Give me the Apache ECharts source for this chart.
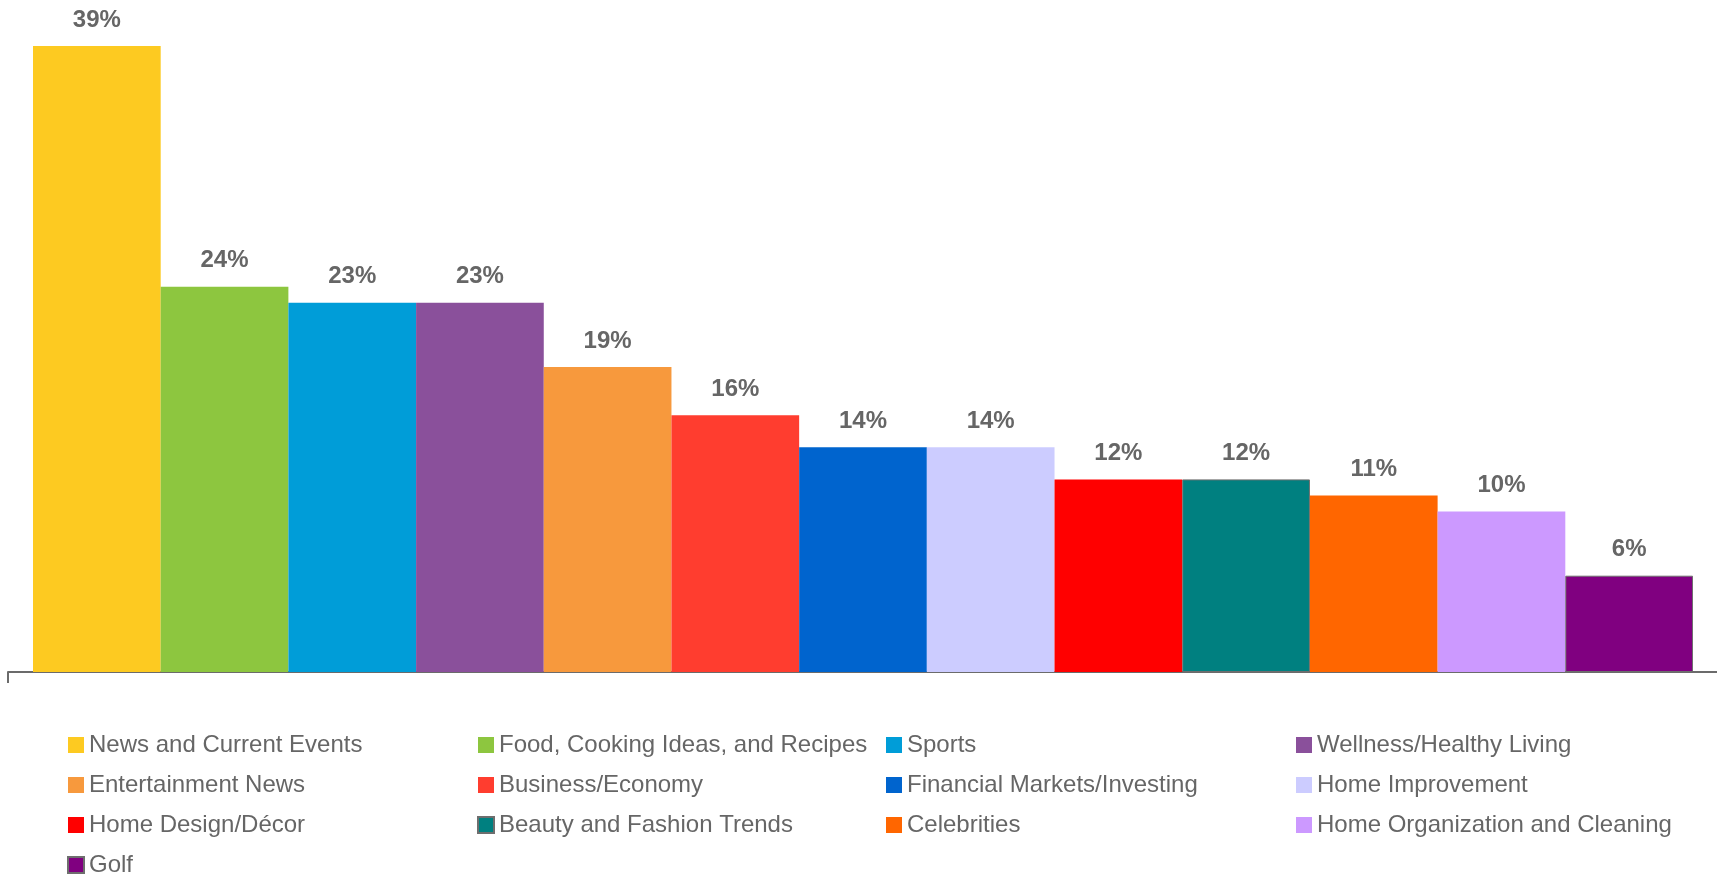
<!DOCTYPE html>
<html>
<head>
<meta charset="utf-8">
<style>
  html, body { margin: 0; padding: 0; background: #ffffff; }
  #chart { width: 1717px; height: 876px; }
</style>
<script src="https://cdn.jsdelivr.net/npm/echarts@6/dist/echarts.min.js"></script>
</head>
<body>
<div id="chart"></div>
<script>
// Share of respondents interested in each topic (%)
const categories = [
  'News and Current Events',
  'Food, Cooking Ideas, and Recipes',
  'Sports',
  'Wellness/Healthy Living',
  'Entertainment News',
  'Business/Economy',
  'Financial Markets/Investing',
  'Home Improvement',
  'Home Design/Décor',
  'Beauty and Fashion Trends',
  'Celebrities',
  'Home Organization and Cleaning',
  'Golf'
];
const values = [39, 24, 23, 23, 19, 16, 14, 14, 12, 12, 11, 10, 6];
const colors = [
  '#FDCA21', '#8DC63F', '#009DD8', '#8A509B', '#F7993D', '#FF3D2F', '#0064CE',
  '#CCCCFF', '#FF0000', '#008080', '#FF6600', '#CC99FF', '#800080'
];
// Topics whose bars carry a thin grey outline
const outlined = ['Beauty and Fashion Trends', 'Golf'];

// Legend columns (left-to-right), each listing its rows top-to-bottom
const legendColumns = [
  ['News and Current Events', 'Entertainment News', 'Home Design/Décor', 'Golf'],
  ['Food, Cooking Ideas, and Recipes', 'Business/Economy', 'Beauty and Fashion Trends'],
  ['Sports', 'Financial Markets/Investing', 'Celebrities'],
  ['Wellness/Healthy Living', 'Home Improvement', 'Home Organization and Cleaning']
];
const legendLefts = [67, 477, 886, 1296];

const textGrey = '#666666';
const fontFamily = '"Liberation Sans", Arial, Helvetica, sans-serif';

// One series per topic, all on one stack so every bar fills its full category band
const series = categories.map((name, i) => ({
  name: name,
  type: 'bar',
  stack: 'all',
  barWidth: '100%',
  data: values.map((v, j) => (j === i ? v : '-')),
  itemStyle: outlined.includes(name)
    ? { color: colors[i], borderColor: '#6e6e6e', borderWidth: 1 }
    : { color: colors[i] },
  label: {
    show: true,
    position: 'top',
    distance: 14,
    formatter: '{c}%',
    color: textGrey,
    fontFamily: fontFamily,
    fontWeight: 'bold',
    fontSize: 24
  },
  emphasis: { disabled: true }
}));

// Baseline running the full width of the page, with a short tick at its left end
series.push({
  type: 'line',
  xAxisIndex: 1,
  yAxisIndex: 1,
  data: [],
  silent: true
});

const legends = legendColumns.map((col, k) => ({
  orient: 'vertical',
  left: legendLefts[k],
  top: 733,
  height: 170,
  padding: 0,
  itemGap: 16,
  itemWidth: 16,
  itemHeight: 16,
  icon: 'rect',
  selectedMode: false,
  data: col,
  textStyle: {
    color: textGrey,
    fontFamily: fontFamily,
    fontSize: 24,
    lineHeight: 24
  }
}));

const chart = echarts.init(document.getElementById('chart'), null, { renderer: 'canvas' });
chart.setOption({
  backgroundColor: '#ffffff',
  animation: false,
  legend: legends,
  grid: [
    { left: 33, right: 24, top: 30, bottom: 204 },
    { left: 8, right: 0, top: 662, bottom: 204 }
  ],
  xAxis: [
    {
      type: 'category',
      gridIndex: 0,
      data: categories,
      axisLine: { show: false },
      axisTick: { show: false },
      axisLabel: { show: false }
    },
    {
      type: 'value',
      gridIndex: 1,
      min: 0,
      max: 1,
      interval: 1,
      axisLine: { show: true, lineStyle: { color: '#6b6b6b', width: 2 } },
      axisTick: { show: true, customValues: [0], length: 11, lineStyle: { color: '#6b6b6b', width: 2 } },
      axisLabel: { show: false },
      splitLine: { show: false }
    }
  ],
  yAxis: [
    {
      type: 'value',
      gridIndex: 0,
      min: 0,
      max: 40,
      show: false,
      splitLine: { show: false }
    },
    {
      type: 'value',
      gridIndex: 1,
      show: false,
      splitLine: { show: false }
    }
  ],
  series: series
});
</script>
</body>
</html>
